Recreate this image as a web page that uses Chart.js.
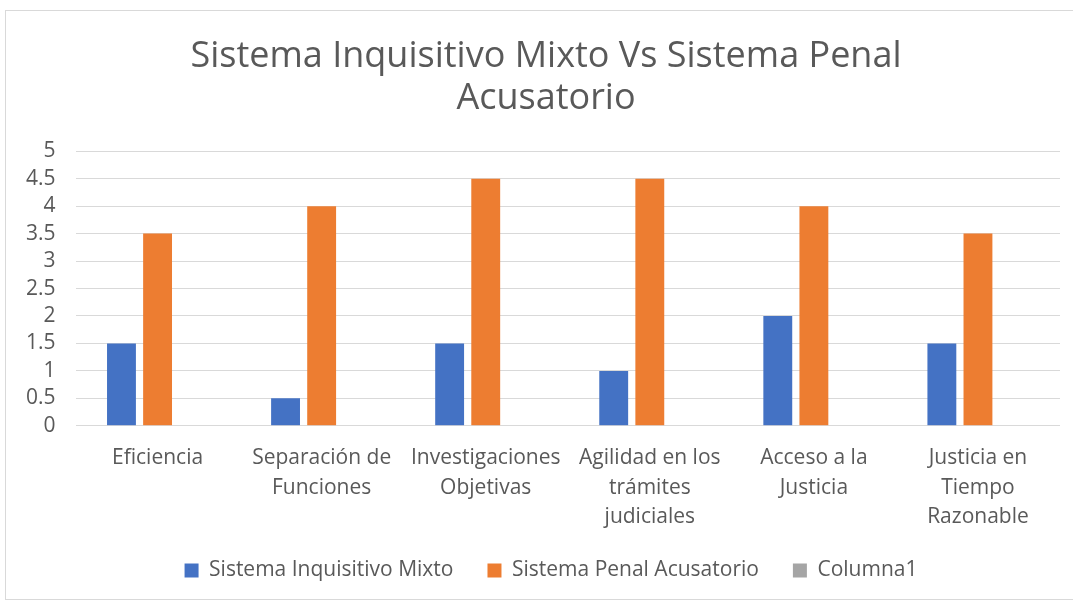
<!DOCTYPE html>
<html lang="es">
<head>
    <meta charset="UTF-8" />
    <title>Sistema Inquisitivo Mixto Vs Sistema Penal Acusatorio</title>
    <script src="https://cdn.jsdelivr.net/npm/chart.js"></script>
    <style>
        body { margin: 0; background: #fff; }
        .chart-box {
            position: absolute; left: 5px; top: 10px;
            width: 1070px; height: 590px;
            border: 1px solid #d9d9d9; box-sizing: border-box;
        }
    </style>
</head>
<body>
    <div class="chart-box">
        <canvas id="sistemasChart"></canvas>
    </div>

    <script>
        // datos
        const categorias = [
            'Eficiencia',
            ['Separación de', 'Funciones'],
            ['Investigaciones', 'Objetivas'],
            ['Agilidad en los', 'trámites', 'judiciales'],
            ['Acceso a la', 'Justicia'],
            ['Justicia en', 'Tiempo', 'Razonable']
        ];
        const inquisitivoMixto = [1.5, 0.5, 1.5, 1, 2, 1.5];
        const penalAcusatorio = [3.5, 4, 4.5, 4.5, 4, 3.5];
        const columna1 = [0, 0, 0, 0, 0, 0];
        const tituloLineas = ['Sistema Inquisitivo Mixto Vs Sistema Penal', 'Acusatorio'];

        const fuente = '"Open Sans", Lato, sans-serif';
        const gris = '#595959';

        // leyenda mas pegada a las etiquetas, y titulo/leyenda algo a la derecha
        const ajusteLayout = {
            id: 'ajusteLayout',
            beforeInit(chart) {
                const fitOriginal = chart.legend.fit;
                chart.legend.fit = function () {
                    fitOriginal.bind(chart.legend)();
                    this.height -= 16;
                };
            },
            afterLayout(chart) {
                chart.legend.top -= 16;
                chart.legend.left += 36;
                chart.titleBlock.left += 26;
            }
        };

        const ctx = document.getElementById('sistemasChart').getContext('2d');
        new Chart(ctx, {
            type: 'bar',
            data: {
                labels: categorias,
                datasets: [
                    { label: 'Sistema Inquisitivo Mixto', data: inquisitivoMixto, backgroundColor: '#4472c4' },
                    { label: 'Sistema Penal Acusatorio', data: penalAcusatorio, backgroundColor: '#ed7d31' },
                    { label: 'Columna1', data: columna1, backgroundColor: '#a5a5a5' }
                ]
            },
            options: {
                responsive: true,
                maintainAspectRatio: false,
                animation: false,
                layout: { padding: { left: 0, right: 14, top: 25, bottom: 8 } },
                datasets: { bar: { categoryPercentage: 0.66, barPercentage: 0.8 } },
                plugins: {
                    title: {
                        display: true,
                        text: tituloLineas,
                        color: gris,
                        font: { family: fuente, size: 36, weight: 'normal', lineHeight: 1.17 },
                        padding: { top: 0, bottom: 31 }
                    },
                    legend: {
                        position: 'bottom',
                        labels: {
                            color: gris,
                            font: { family: fuente, size: 21 },
                            boxWidth: 14,
                            boxHeight: 14,
                            padding: 34
                        }
                    },
                    tooltip: { enabled: false }
                },
                scales: {
                    x: {
                        grid: { display: false },
                        border: { display: false },
                        ticks: {
                            color: gris,
                            font: { family: fuente, size: 21, lineHeight: 1.4 },
                            maxRotation: 0,
                            padding: 10
                        }
                    },
                    y: {
                        min: 0,
                        max: 5,
                        grid: { color: '#d9d9d9', drawTicks: false },
                        border: { display: false },
                        ticks: {
                            stepSize: 0.5,
                            autoSkip: false,
                            color: gris,
                            font: { family: fuente, size: 21 },
                            padding: 20,
                            callback: v => String(v)
                        }
                    }
                }
            },
            plugins: [ajusteLayout]
        });
    </script>
</body>
</html>
